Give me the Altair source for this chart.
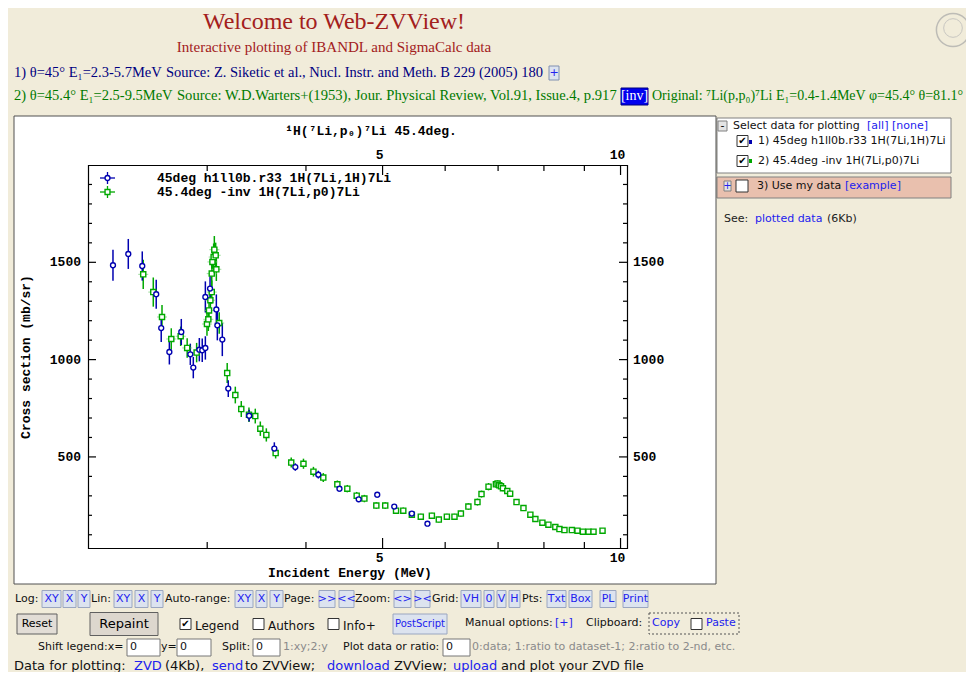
import altair as alt
import pandas as pd

# ---------------- data ----------------
blue_energy = [2.28, 2.384, 2.483, 2.586, 2.624, 2.687, 2.782, 2.856, 2.881, 2.932,
               2.957, 2.984, 2.984, 3.025, 3.081, 3.09, 3.135, 3.19, 3.39, 3.648,
               3.878, 4.147, 4.41, 4.664, 4.923, 5.173, 5.445, 5.698]
blue_cs = [1485, 1543, 1481, 1336, 1162, 1039, 1142, 1027, 959, 1051,
           1048, 1060, 1322, 1365, 1258, 1176, 1103, 851, 712, 543,
           448, 409, 337, 282, 306, 245, 209, 157]
blue_err = [80, 77, 75, 75, 72, 64, 67, 55, 55, 60,
            60, 60, 80, 75, 77, 77, 85, 43, 30, 32,
            19, 20, 15, 14, 14, 8, 8, 8]

green_energy = [2.49, 2.564, 2.63, 2.702, 2.777, 2.83, 2.909,
                2.998, 3.01, 3.016, 3.028, 3.04, 3.04, 3.046, 3.057, 3.063, 3.075, 3.081, 3.107,
                3.18, 3.256, 3.313, 3.388, 3.451, 3.502, 3.564, 3.662, 3.832, 3.971,
                4.088, 4.207, 4.383, 4.512, 4.637, 4.742, 4.91, 5.039, 5.2, 5.311,
                5.445, 5.589, 5.772, 5.89, 6.03, 6.165, 6.281, 6.42, 6.592, 6.67,
                6.808, 6.956, 6.99, 7.024, 7.06, 7.1, 7.19, 7.25, 7.386, 7.537,
                7.69, 7.803, 7.964, 8.105, 8.27, 8.37, 8.493, 8.678, 8.822, 8.962,
                9.11, 9.243, 9.489]
green_cs = [1438, 1347, 1219, 1106, 1120, 1060, 1036,
            1183, 1207, 1253, 1305, 1347, 1442, 1502, 1527, 1565, 1536, 1464, 1188,
            931, 818, 746, 717, 710, 645, 613, 520, 471, 465,
            424, 394, 359, 337, 301, 286, 250, 250, 224, 224,
            203, 193, 198, 178, 193, 193, 209, 245, 268, 309,
            347, 359, 363, 354, 349, 339, 325, 311, 268, 237,
            203, 181, 162, 152, 140, 129, 124, 124, 121, 116,
            116, 116, 121]
green_err = [75, 75, 62, 55, 50, 50, 50,
             60, 60, 60, 60, 60, 65, 65, 70, 70, 65, 60, 55,
             51, 43, 41, 37, 38, 37, 34, 28, 26, 26,
             25, 23, 20, 19, 19, 19, 17, 17, 16, 16,
             15, 15, 15, 15, 15, 15, 16, 17, 18, 18,
             19, 17, 17, 16, 15, 15, 14, 14, 12, 12,
             10, 10, 9, 9, 8, 8, 8, 8, 8, 8,
             8, 8, 8]

x_major_ticks = [5, 10]
x_minor_ticks = [3, 4, 6, 7, 8, 9]
y_major_ticks = [500, 1000, 1500]
y_minor_ticks = [100, 200, 300, 400, 600, 700, 800, 900, 1100, 1200,
                 1300, 1400, 1600, 1700, 1800, 1900]

legend_labels = ["45deg h1ll0b.r33 1H(7Li,1H)7Li", "45.4deg -inv 1H(7Li,p0)7Li"]

# ---------------- frames ----------------
blue = pd.DataFrame({"E": blue_energy, "cs": blue_cs})
blue["lo"] = blue["cs"] - pd.Series(blue_err)
blue["hi"] = blue["cs"] + pd.Series(blue_err)
green = pd.DataFrame({"E": green_energy, "cs": green_cs})
green["lo"] = green["cs"] - pd.Series(green_err)
green["hi"] = green["cs"] + pd.Series(green_err)
green_wings = green[green["E"] < 3.11]

ONE = pd.DataFrame({"k": [0]})

BG = "#F1ECDA"
BLUE = "#0000B0"
GREEN = "#00A800"
LGREEN = "#7CD07C"
LINK = "#2222EE"
MONO = "Liberation Mono"
SANS = "DejaVu Sans"
SERIF = "Liberation Serif"

X0, Y0 = 88, 165          # page position of the plot area
W, H = 539, 383           # plot area size
TOTAL_H = 664

xs = alt.Scale(type="log", domain=[2.12, 10.19], nice=False)
ys = alt.Scale(domain=[32, 2000], nice=False, zero=False)


def L(px):
    return px - X0


def T(py):
    return py - Y0


def rect(x1, y1, x2, y2, fill="white", stroke=None, sw=1, dash=None, fop=1):
    kw = dict(fill=fill, fillOpacity=fop)
    if stroke:
        kw.update(stroke=stroke, strokeWidth=sw)
    if dash:
        kw["strokeDash"] = dash
    return alt.Chart(ONE).mark_rect(**kw).encode(
        x=alt.value(L(x1)), x2=alt.value(L(x2)),
        y=alt.value(T(y1)), y2=alt.value(T(y2)))


def txt(px, py, s, color="#111111", size=11, font=SANS, weight="normal",
        align="left", angle=0):
    kw = dict(align=align, baseline="middle", font=font, fontSize=size,
              fontWeight=weight, color=color)
    if angle:
        kw["angle"] = angle
    return alt.Chart(ONE).mark_text(**kw).encode(
        x=alt.value(L(px)), y=alt.value(T(py)), text=alt.value(s))


def button(x1, x2, yc, label, h=17, size=11, color=LINK, fill="#DCE3EF", stroke="#9AA6C0"):
    return [rect(x1, yc - h / 2, x2, yc + h / 2, fill=fill, stroke=stroke),
            txt((x1 + x2) / 2, yc, label, color=color, size=size, align="center")]


def checkbox(x1, yc, checked=False, s=11):
    out = [rect(x1, yc - s / 2, x1 + s, yc + s / 2, fill="white", stroke="#333333")]
    if checked:
        out.append(txt(x1 + s / 2, yc, "✔", color="#000000", size=10, align="center"))
    return out


layers = []

# ---------------- page header ----------------
layers += [
    txt(334, 22, "Welcome to Web-ZVView!", color="#A3201C", size=24, font=SERIF, align="center"),
    txt(334, 47, "Interactive plotting of IBANDL and SigmaCalc data", color="#A3201C",
        size=15, font=SERIF, align="center"),
    txt(14, 73, "1) θ=45° E₁=2.3-5.7MeV", color="#000080", size=14.5, font=SERIF),
    txt(166, 73, "Source: Z. Siketic et al., Nucl. Instr. and Meth. B 229 (2005) 180",
        color="#000080", size=14.5, font=SERIF),
    rect(549, 66, 559, 80, fill="#DCE3EF", stroke="#8090B0"),
    txt(554, 73, "+", color=LINK, size=11, align="center"),
    txt(14, 96, "2) θ=45.4° E₁=2.5-9.5MeV", color="#007A00", size=14.5, font=SERIF),
    txt(177, 96, "Source: W.D.Warters+(1953), Jour. Physical Review, Vol.91, Issue.4, p.917",
        color="#007A00", size=14.6, font=SERIF),
    rect(621, 88, 648, 105, fill="#0000EE", stroke="#000080"),
    txt(634.5, 96, "[inv]", color="white", size=14, font=SERIF, align="center"),
    txt(652, 96, "Original: ⁷Li(p,p₀)⁷Li E₁=0.4-1.4MeV φ=45.4° θ=81.1°",
        color="#007A00", size=14, font=SERIF),
]
# emblem (top right)
layers += [
    alt.Chart(ONE).mark_point(shape="circle", size=1100, filled=False, stroke="#A8A8A8",
                              strokeWidth=1.5).encode(x=alt.value(L(953)), y=alt.value(T(30))),
    alt.Chart(ONE).mark_point(shape="circle", size=350, filled=False, stroke="#B8B8B8",
                              strokeWidth=1).encode(x=alt.value(L(953)), y=alt.value(T(28))),
]

# ---------------- right panel ----------------
layers += [
    rect(717, 118, 951, 173, fill="white", stroke="#808080"),
    rect(718, 121, 727, 131, fill="#E4E4E4", stroke="#808080"),
    txt(722.5, 125.5, "-", color="#000000", size=11, align="center"),
    txt(733, 126, "Select data for plotting", color="#111111", size=11),
    txt(867, 126, "[all] [none]", color=LINK, size=11),
]
layers += checkbox(737, 141, True)
layers += [rect(749, 140, 752, 144, fill=BLUE),
           txt(758, 141, "1) 45deg h1ll0b.r33 1H(7Li,1H)7Li", size=11)]
layers += checkbox(737, 161, True)
layers += [rect(749, 159, 752, 163, fill=GREEN),
           txt(758, 161, "2) 45.4deg -inv 1H(7Li,p0)7Li", size=11)]
layers += [
    rect(717, 177, 951, 198, fill="#E9C0AE", stroke="#808080"),
    rect(724, 181, 731, 191, fill="#E4E4E4", stroke="#808080"),
    txt(727.5, 186, "+", color=LINK, size=10, align="center"),
]
layers += checkbox(736, 186, False, 12)
layers += [
    txt(757, 186, "3) Use my data", size=11),
    txt(845, 186, "[example]", color=LINK, size=11),
    txt(724, 219, "See:", color="#222222", size=11),
    txt(755, 219, "plotted data", color=LINK, size=11),
    txt(827, 219, "(6Kb)", color="#222222", size=11),
]

# ---------------- controls below the chart ----------------
r1 = 599
layers += [txt(15, r1, "Log:"), txt(91, r1, "Lin:"), txt(165, r1, "Auto-range:"),
           txt(284, r1, "Page:"), txt(355, r1, "Zoom:"), txt(432, r1, "Grid:"),
           txt(522, r1, "Pts:")]
for a, b, lab in [(42, 61, "XY"), (63, 76, "X"), (78, 90, "Y"),
                  (114, 132, "XY"), (135, 148, "X"), (151, 163, "Y"),
                  (235, 253, "XY"), (256, 267, "X"), (270, 283, "Y"),
                  (319, 335, ">>"), (339, 354, "<<"),
                  (394, 411, "<>"), (415, 430, "><"),
                  (461, 481, "VH"), (484, 494, "0"), (497, 506, "V"), (509, 520, "H"),
                  (547, 566, "Txt"), (569, 592, "Box"), (600, 616, "PL"), (623, 648, "Print")]:
    layers += button(a, b, r1, lab)

r2 = 624
layers += button(17, 57, r2, "Reset", h=20, color="#000000", fill="#E2DDD6", stroke="#606060")
layers += button(90, 158, r2, "Repaint", h=23, size=13, color="#000000", fill="#DDD7CE", stroke="#606060")
layers += checkbox(180, r2, True)
layers += [txt(195, r2 + 2, "Legend", size=12)]
layers += checkbox(253, r2)
layers += [txt(268, r2 + 2, "Authors", size=12)]
layers += checkbox(328, r2)
layers += [txt(343, r2 + 2, "Info+", size=12)]
layers += button(393, 447, r2, "PostScript", h=20, size=10)
layers += [txt(465, r2 - 1, "Manual options:", size=11),
           txt(555, r2 - 1, "[+]", color=LINK, size=11),
           txt(586, r2 - 1, "Clipboard:", size=11),
           rect(649, 613, 739, 634, fill="white", fop=0, stroke="#555555", dash=[2, 2]),
           txt(652, r2 - 1, "Copy", color=LINK, size=11)]
layers += checkbox(691, r2)
layers += [txt(706, r2 - 1, "Paste", color=LINK, size=11)]

r3 = 647
layers += [txt(38, r3, "Shift legend:x=", size=11),
           rect(127, r3 - 8, 160, r3 + 9, fill="white", stroke="#777777"),
           txt(130, r3, "0", size=11),
           txt(161, r3, "y=", size=11),
           rect(177, r3 - 8, 211, r3 + 9, fill="white", stroke="#777777"),
           txt(180, r3, "0", size=11),
           txt(222, r3, "Split:", size=11),
           rect(253, r3 - 8, 280, r3 + 9, fill="white", stroke="#777777"),
           txt(256, r3, "0", size=11),
           txt(283, r3, "1:xy;2:y", color="#8A8A8A", size=11),
           txt(343, r3, "Plot data or ratio:", size=11),
           rect(443, r3 - 8, 470, r3 + 9, fill="white", stroke="#777777"),
           txt(446, r3, "0", size=11),
           txt(472, r3, "0:data; 1:ratio to dataset-1; 2:ratio to 2-nd, etc.", color="#8A8A8A", size=11)]

r4 = 666
layers += [txt(14, r4, "Data for plotting:", size=13),
           txt(134, r4, "ZVD", color=LINK, size=13),
           txt(165, r4, "(4Kb),", size=13),
           txt(212, r4, "send", color=LINK, size=13),
           txt(245, r4, "to ZVView;", size=13),
           txt(327, r4, "download", color=LINK, size=13),
           txt(394, r4, "ZVView;", size=13),
           txt(453, r4, "upload", color=LINK, size=13),
           txt(501, r4, "and plot your ZVD file", size=13)]

# ---------------- chart box ----------------
layers.append(rect(14, 116, 716, 584, fill="white", stroke="#505050"))

# ---------------- data marks ----------------
X = alt.X("E:Q", scale=xs, axis=None)
layers += [
    alt.Chart(green).mark_rule(color=GREEN, strokeWidth=1.5).encode(
        x=X, y=alt.Y("lo:Q", scale=ys, axis=None), y2="hi:Q"),
    alt.Chart(blue).mark_rule(color=BLUE, strokeWidth=1.5).encode(
        x=X, y=alt.Y("lo:Q", scale=ys, axis=None), y2="hi:Q"),
    alt.Chart(green_wings).mark_tick(orient="horizontal", size=10, thickness=1.1, color=LGREEN).encode(
        x=X, y=alt.Y("cs:Q", scale=ys, axis=None)),
    alt.Chart(green).mark_point(shape="square", size=26, filled=True, fill="white",
                                stroke=GREEN, strokeWidth=1.4, opacity=1).encode(
        x=X, y=alt.Y("cs:Q", scale=ys, axis=None)),
    alt.Chart(blue).mark_point(shape="circle", size=24, filled=True, fill="white",
                               stroke=BLUE, strokeWidth=1.4, opacity=1).encode(
        x=X, y=alt.Y("cs:Q", scale=ys, axis=None)),
]

# ---------------- frame, ticks, labels ----------------
layers.append(rect(X0 + 0.5, Y0 + 0.5, X0 + W + 0.5, Y0 + H + 0.5, fill="white", fop=0,
                   stroke="#000000", sw=1.2))


def xticks(vals, length):
    d = pd.DataFrame({"v": vals})
    xe = alt.X("v:Q", scale=xs, axis=None)
    return [alt.Chart(d).mark_rule(color="black", strokeWidth=1.2).encode(
                x=xe, y=alt.value(H), y2=alt.value(H - length)),
            alt.Chart(d).mark_rule(color="black", strokeWidth=1.2).encode(
                x=xe, y=alt.value(0), y2=alt.value(length))]


def yticks(vals, length):
    d = pd.DataFrame({"v": vals})
    ye = alt.Y("v:Q", scale=ys, axis=None)
    return [alt.Chart(d).mark_rule(color="black", strokeWidth=1.2).encode(
                y=ye, x=alt.value(0), x2=alt.value(length)),
            alt.Chart(d).mark_rule(color="black", strokeWidth=1.2).encode(
                y=ye, x=alt.value(W), x2=alt.value(W - length))]


layers += xticks(x_major_ticks, 10) + xticks(x_minor_ticks, 6)
layers += yticks(y_major_ticks, 8) + yticks(y_minor_ticks, 4)

xl = pd.DataFrame({"v": x_major_ticks})
yl = pd.DataFrame({"v": y_major_ticks})
lab = dict(font=MONO, fontSize=13, fontWeight="bold", color="black", baseline="middle")
layers += [
    alt.Chart(xl).mark_text(align="center", dx=-3, **lab).encode(
        x=alt.X("v:Q", scale=xs, axis=None), y=alt.value(T(558)), text=alt.Text("v:Q", format="d")),
    alt.Chart(xl).mark_text(align="center", dx=-3, **lab).encode(
        x=alt.X("v:Q", scale=xs, axis=None), y=alt.value(T(155)), text=alt.Text("v:Q", format="d")),
    alt.Chart(yl).mark_text(align="right", **lab).encode(
        y=alt.Y("v:Q", scale=ys, axis=None), x=alt.value(L(81)), text=alt.Text("v:Q", format="d")),
    alt.Chart(yl).mark_text(align="left", **lab).encode(
        y=alt.Y("v:Q", scale=ys, axis=None), x=alt.value(L(633)), text=alt.Text("v:Q", format="d")),
]

layers += [
    txt(371, 131, "¹H(⁷Li,p₀)⁷Li 45.4deg.", color="black", size=13, font=MONO,
        weight="bold", align="center"),
    txt(350, 573, "Incident Energy (MeV)", color="black", size=13, font=MONO,
        weight="bold", align="center"),
    txt(26, 357, "Cross section (mb/sr)", color="black", size=13, font=MONO,
        weight="bold", align="center", angle=270),
]

# ---------------- in-plot legend ----------------
for yc, col, shp, label in [(178, BLUE, "circle", legend_labels[0]),
                            (192, GREEN, "square", legend_labels[1])]:
    layers += [
        alt.Chart(ONE).mark_rule(color=col, strokeWidth=1.3).encode(
            x=alt.value(L(100)), x2=alt.value(L(115)), y=alt.value(T(yc))),
        alt.Chart(ONE).mark_rule(color=col, strokeWidth=1.3).encode(
            x=alt.value(L(107.5)), y=alt.value(T(yc - 6)), y2=alt.value(T(yc + 6))),
        alt.Chart(ONE).mark_point(shape=shp, size=24, filled=True, fill="white",
                                  stroke=col, strokeWidth=1.4, opacity=1).encode(
            x=alt.value(L(107.5)), y=alt.value(T(yc))),
        txt(157, yc, label, color="black", size=13, font=MONO, weight="bold"),
    ]

chart = alt.layer(*layers).properties(
    width=W, height=H,
    padding={"left": X0 - 8, "top": Y0 - 8, "right": 958 - (X0 - 8) - W,
             "bottom": TOTAL_H - (Y0 - 8) - H},
    autosize=alt.AutoSizeParams(type="none"),
    background=BG,
).configure_view(strokeOpacity=0)

chart.save("out.html", embed_options={"renderer": "svg", "actions": False})
